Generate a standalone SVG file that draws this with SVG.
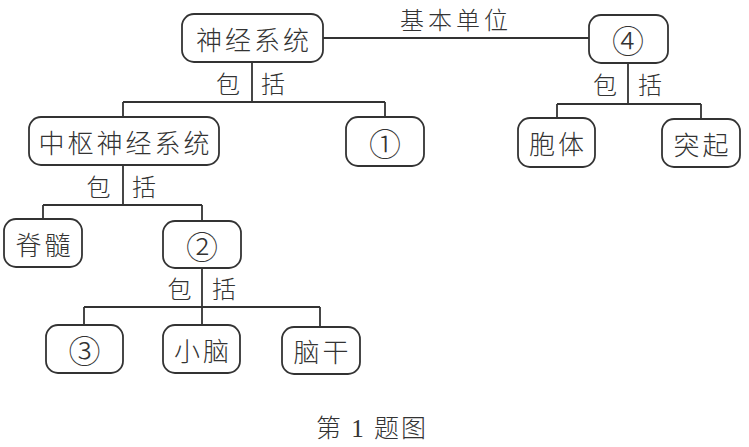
<svg xmlns="http://www.w3.org/2000/svg" width="749" height="447" viewBox="0 0 749 447">
<style>
.box{fill:#fff;stroke:#333;stroke-width:1.8}
.t{font-family:"Noto Sans CJK SC","Noto Sans",sans-serif;font-weight:300;font-size:26px;fill:#333;text-anchor:middle;dominant-baseline:central;letter-spacing:3px}
.lb{font-family:"Noto Sans CJK SC","Noto Sans",sans-serif;font-weight:300;font-size:24px;fill:#333;text-anchor:middle;dominant-baseline:central}
.c{font-family:"Noto Sans CJK SC",sans-serif;font-weight:300;font-size:32px;fill:#333;text-anchor:middle;dominant-baseline:central}
.cap{font-family:"Liberation Serif","Noto Sans CJK SC",serif;font-weight:300;font-size:25px;fill:#333;text-anchor:middle;dominant-baseline:central;letter-spacing:2px}
.ln{fill:none;stroke:#333;stroke-width:1.8}
</style>
<rect width="749" height="447" fill="#fff"/>
<g id="connectors" class="ln">
<path d="M252,62V102M123,102H385M123,102V117M385,102V117"/>
<path d="M323,38H589"/>
<path d="M628,63V104M557,104H701M557,104V118M701,104V119"/>
<path d="M123,165V205M43,205H202M43,205V219M202,205V221"/>
<path d="M202,268V307M84,307H320M84,307V325M202,307V325M320,307V327"/>
</g>
<g id="edge-labels">
<text class="lb" x="456" y="18" style="letter-spacing:4px">基本单位</text>
<text class="lb" x="228" y="82">包</text><text class="lb" x="273" y="82">括</text>
<text class="lb" x="98.5" y="185">包</text><text class="lb" x="144" y="185">括</text>
<text class="lb" x="179.5" y="287">包</text><text class="lb" x="224" y="287">括</text>
<text class="lb" x="605" y="83">包</text><text class="lb" x="650" y="83">括</text>
</g>
<g id="n-nervous"><rect class="box" x="182" y="14" width="141" height="48" rx="12"/><text class="t" x="254" y="38">神经系统</text></g>
<g id="n-4"><rect class="box" x="589" y="15" width="79" height="48" rx="12"/><text class="c" x="628" y="39">④</text></g>
<g id="n-central"><rect class="box" x="29" y="117" width="190" height="48" rx="12"/><text class="t" x="125.5" y="141">中枢神经系统</text></g>
<g id="n-1"><rect class="box" x="346" y="117" width="78" height="49" rx="12"/><text class="c" x="385" y="141.5">①</text></g>
<g id="n-body"><rect class="box" x="518" y="118" width="77" height="49" rx="12"/><text class="t" x="558" y="142.5">胞体</text></g>
<g id="n-process"><rect class="box" x="662" y="119" width="78" height="48" rx="12"/><text class="t" x="702.5" y="143">突起</text></g>
<g id="n-spinal"><rect class="box" x="4" y="219" width="78" height="48" rx="12"/><text class="t" x="44.5" y="243">脊髓</text></g>
<g id="n-2"><rect class="box" x="163" y="221" width="78" height="47" rx="12"/><text class="c" x="202" y="244.5">②</text></g>
<g id="n-3"><rect class="box" x="46" y="325" width="77" height="48" rx="12"/><text class="c" x="84.5" y="349">③</text></g>
<g id="n-cerebellum"><rect class="box" x="163" y="325" width="77" height="48" rx="12"/><text class="t" x="203" y="349">小脑</text></g>
<g id="n-brainstem"><rect class="box" x="282" y="327" width="78" height="47" rx="12"/><text class="t" x="322.5" y="350.5">脑干</text></g>
<text class="cap" x="372" y="428">第 1 题图</text>
</svg>
